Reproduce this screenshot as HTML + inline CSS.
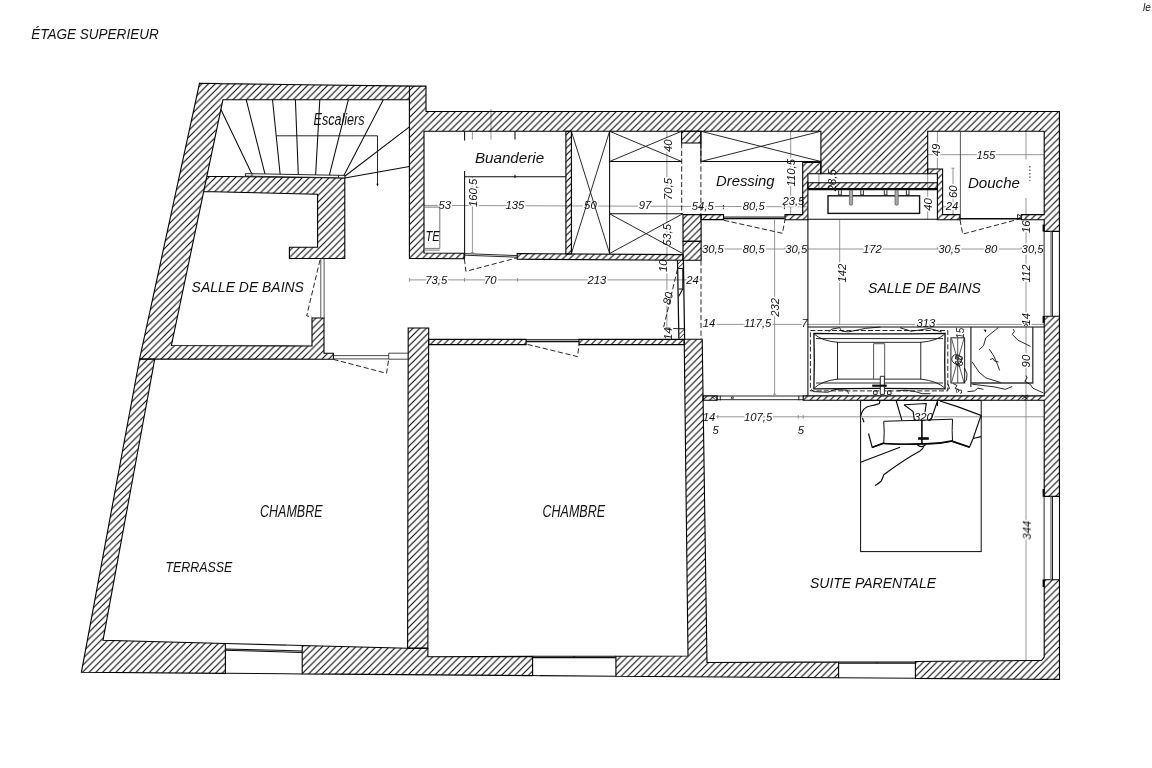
<!DOCTYPE html>
<html lang="fr"><head><meta charset="utf-8"><title>Étage supérieur</title>
<style>html,body{margin:0;padding:0;background:#fff}svg{display:block}text{font-family:"Liberation Sans",sans-serif;font-style:italic;fill:#111}#labels,#dims,#dims2{opacity:.999}.k{stroke:#0a0a0a;fill:none;stroke-width:1.05}.t{stroke:#111;fill:none;stroke-width:.9}.g{stroke:#8a8a8a;fill:none;stroke-width:.9}.d{stroke:#111;fill:none;stroke-width:.9;stroke-dasharray:5.2 2.6}#dims text{stroke:#fff;stroke-width:3.4px;paint-order:stroke;stroke-linejoin:round}.w{fill:url(#h);stroke:#000;stroke-width:1.1;stroke-linejoin:miter}</style></head><body>
<svg width="1152" height="768" viewBox="0 0 1152 768">
<defs><pattern id="h" width="6.7" height="6.7" patternUnits="userSpaceOnUse" x="4.3" y="0"><path d="M-1 1L1 -1M0 6.7 L6.7 0M5.7 7.7 L7.7 5.7" stroke="#000" stroke-width="1.05" fill="none"/></pattern></defs>
<rect width="1152" height="768" fill="#fff"/>
<g id="dimlines"><path class="g" d="M472.4 131.25V139.6M491 109V139.6M472.4 176.75V252.9M470.8 252.4H474M424.1 205.4L807.9 206.8"/>
<path class="g" d="M666.9 131.25V337.5"/>
<path class="g" d="M409.4 279.9H701M409.4 278V281.8M464.5 278V281.8M517.4 278V281.8"/>
<path class="g" d="M790.7 131.25V214.6M774.6 219.8V394.6M773 394.2H776.2"/>
<path class="g" d="M701 249H1044.2M723.8 247.2V250.8M785 247.2V250.8M807.9 247.2V250.8M937.4 247.2V250.8M960 247.2V250.8M1021.3 247.2V250.8"/>
<path class="g" d="M839.7 219.8V325M927.7 173.7V219.8M818.9 173.7V189"/>
<path class="g" d="M1026 131.25V660.4M927.5 154.7H1044.2M937.4 131.25V169M953 168.2V214.6M951.4 168.2H954.6M951.4 214.4H954.6M942.6 206.8H960"/>
<path class="g" d="M703 324.4H1044.2M712.5 322.6V326.2M803 322.6V326.2"/>
<path class="g" d="M703 416.8H1044.2M712.7 415V418.6M717.8 415V418.6M798.3 415V418.6M803.2 415V418.6"/></g>
<g id="dims" font-size="11.3">
<text x="438.5" y="209.4">53</text>
<text x="505.5" y="209.4">135</text>
<text x="584.1" y="209.4">50</text>
<text x="638.8" y="209.4">97</text>
<text x="691.8" y="209.9">54,5</text>
<text x="742.8" y="209.9">80,5</text>
<text x="782.4" y="204.7">23,5</text>
<text x="425.3" y="283.6">73,5</text>
<text x="483.9" y="283.6">70</text>
<text x="587.5" y="283.6">213</text>
<text x="686.3" y="284">24</text>
<text x="701.9" y="252.7">30,5</text>
<text x="742.8" y="252.9">80,5</text>
<text x="785.3" y="252.9">30,5</text>
<text x="863" y="252.9">172</text>
<text x="938.2" y="252.9">30,5</text>
<text x="984.8" y="252.9">80</text>
<text x="1021.6" y="252.9">30,5</text>
<text x="976.5" y="158.6">155</text>
<text x="945.8" y="209.9">24</text>
<text x="702.8" y="327.3">14</text>
<text x="743.9" y="327.4">117,5</text>
<text x="801.4" y="327">7</text>
<text x="916.5" y="327.4">313</text>
<text x="702.8" y="420.8">14</text>
<text x="743.9" y="420.8">107,5</text>
<text x="712.6" y="434">5</text>
<text x="797.7" y="434">5</text>
<text x="913.9" y="420.6">320</text>
<!-- rotated -->
<text transform="translate(672 152) rotate(-90)">40</text>
<text transform="translate(671.5 200) rotate(-90)">70,5</text>
<text transform="translate(670.5 246) rotate(-90)">53,5</text>
<text transform="translate(666.5 272) rotate(-90)">10</text>
<text transform="translate(670.3 305.3) rotate(-77)">80</text>
<text transform="translate(672 340) rotate(-90)">14</text>
<text transform="translate(476.8 207) rotate(-90)">160,5</text>
<text transform="translate(795.4 186.5) rotate(-90)">110,5</text>
<text transform="translate(846.2 282.5) rotate(-90)">142</text>
<text transform="translate(779.3 316.7) rotate(-90)">232</text>
<text transform="translate(931.8 210.8) rotate(-90)">40</text>
<text transform="translate(940.3 156.2) rotate(-90)">49</text>
<text transform="translate(956.6 198) rotate(-90)">60</text>
<text transform="translate(1030 233) rotate(-90)">16</text>
<text transform="translate(1030 282.5) rotate(-90)">112</text>
<text transform="translate(1030 325.5) rotate(-90)">14</text>
<text transform="translate(1030.3 367.4) rotate(-90)">90</text>
<text transform="translate(1030.8 539.6) rotate(-90)">344</text>
<text transform="translate(963.5 338.8) rotate(-90)" font-size="10">15</text>
<text transform="translate(962.5 366.2) rotate(-90)" font-size="10">60</text>
<text transform="translate(961.5 394) rotate(-90)" font-size="9">3</text>
</g>

<path class="w" fill-rule="evenodd" d="M139.6 359 L333.4 359.2 L333.4 353.2 L324 353.2 L324 318 L312 318 L312 346 L171.4 345.5 L222.9 99.8 L226 99.8 L409.4 99.8 L409.4 111.5 L409.4 131.25 L409.4 252.9 L409.4 258.4 L464 258.8 L464 253.3 L424 253.01 L424 131.25 L426 131.25 L820.9 131.25 L820.9 173.7 L927.7 173.7 L927.7 131.25 L1044.2 131.25 L1044.2 214.6 L1021.3 214.6 L1021.3 219.8 L1044.2 219.8 L1044.2 231.4 L1059.4 231.4 L1059.4 131.25 L1059.4 111.5 L1044.2 111.5 L426 111.5 L426 99.8 L426 86.25 L426 86.1 L414.34 86.1 L220 83.6 L220 83.61 L199.5 83.3Z M289.4 258.5 L344.8 258.5 L344.8 177.9 L206.9 176.25 L203.7 191.5 L317.6 194.2 L317.6 247.3 L289.4 247.3Z M225.4 673.35 L225.4 643.5 L103 640.3 L154.7 359.3 L139.6 359 L81.4 672.3Z M427.9 648.2 L407.6 648.2 L302.2 645.5 L302.2 673.9 L532.6 675.58 L532.6 656.4 L427.9 656.8Z M803.2 400.3 L1044.2 400.3 L1044.2 496.4 L1059.4 496.4 L1059.4 316.25 L1044.2 316.25 L1044.2 395.9 L803.2 395.9Z M688 656 L615.9 656.2 L615.9 676.18 L838.6 677.8 L838.6 662 L707 662.5 L702.2 339.2 L684.2 339.2Z M1044.2 579.8 L1044.2 657 L1041.7 660.4 L1030 660.5 L1030 660.5 L915.4 661.5 L915.4 678.35 L1030 679.19 L1030 679.2 L1059.5 679.4 L1059.45 579.8Z"/>
<path class="w" d="M517.2 253.6 L683 254.6 L683 260.3 L517.2 259.2Z"/>
<path class="w" d="M571.4 131.25 L571.4 254 L565.9 254 L565.9 131.25Z"/>
<path class="w" d="M701.1 214.6 L701.1 241.2 L683 241.2 L683 214.6Z"/>
<path class="w" d="M701.1 241.2 L701.1 260.3 L683 260.3 L683 241.2Z"/>
<path class="w" d="M700.9 131.25 L700.9 143 L681.6 143 L681.6 131.25Z"/>
<path class="w" d="M723.5 214.6 L723.5 219.6 L701 219.6 L701 214.6Z"/>
<path class="w" d="M937.3 182.8 L937.3 188.5 L807.9 188.5 L807.9 182.8Z"/>
<path class="w" d="M408.2 328 L428.7 328 L427.9 648.2 L407.6 648.2Z"/>
<path class="w" d="M526.1 339.4 L526.1 344.6 L428.7 344.6 L428.7 339.4Z"/>
<path class="w" d="M684.2 339.4 L684.2 344.6 L579 344.6 L579 339.4Z"/>
<path class="w" d="M717 395.9 L717 400.3 L703 400.3 L703 395.9Z"/>
<path class="w" d="M802.7 162.5 L820.9 162.5 L820.9 173.7 L807.9 173.7 L807.9 219.8 L785 219.8 L785 214.6 L802.7 214.6Z"/>
<path class="w" d="M927.7 169 L942.6 169 L942.6 214.6 L960 214.6 L960 219.8 L937.4 219.8 L937.4 173.7 L927.7 173.7Z"/>
<!-- junction lines -->
<path class="k" d="M139.6 359H155M407.6 648.2H427.9M409.4 86.1V99.8"/>

<!-- ===== stairs ===== -->
<g id="stairs">
<path class="k" d="M220.8 109.2L252 174.2M246.25 99.8L265 174.2M272.5 99.8L280.2 174.8M295.4 99.8L298.3 174.8M319.8 99.8L315.6 175.4M348.3 99.8L329.2 175.8M383.3 99.8L343.75 175.8M409.4 126.9L344.8 176.25M409.4 166.5L344.8 177.9"/>
<path class="t" d="M245.4 173.6L344.8 175.4V177.9L245.4 176.1Z" style="fill:#fff"/>
<path class="t" d="M252 173.7V176.2M338.5 175.3V177.8"/>
<path class="t" d="M276 135.8H377.5V185.2"/>
<path d="M376.3 183.8h2.4l-1.2 2.6z" fill="#111"/>
</g>

<!-- ===== left bathroom door + hall door ===== -->
<g id="leftdoors">
<path class="t" d="M320.8 258.5V318M324.1 258.5V318" style="stroke:#444"/>
<path class="d" d="M320 260L306.7 315.8L312.2 317.2"/>
<path class="t" d="M333.4 355.6H388.7M333.4 358.9H388.7M388.7 353.2H408.2M388.7 359.2H408.2M388.7 353.2V359.2" style="stroke:#333"/>
<path class="d" d="M333.4 359.4L386.5 373.3L388.7 359.4"/>
</g>

<!-- ===== buanderie ===== -->
<g id="buanderie">
<path class="k" d="M464.6 170.9V258.8M464.6 176.75H566.1M464.6 131.25V140.6M515 131.25V139.6M515 174.8V177.9"/>
<path class="t" d="M424.1 207.1H439.8V248.4H424.1M424.1 250.1H439.8" style="stroke:#666"/>
<path class="t" d="M464.4 253.6L517.3 255.6M464.4 255.2L517.3 257.2"/>
<path class="d" d="M464.4 259L465.9 271.3L517.3 257.8"/>
<!-- closets -->
<path class="t" d="M571.4 131.25L609.6 253.5M609.6 131.25L571.4 253.5"/>
<path class="k" d="M609.6 131.25V253.5M609.6 161.5H681.6M609.6 213.8H682.7"/>
<path class="t" d="M609.6 161.5L681.6 131.25M609.6 131.25L681.6 161.5M609.6 253.5L682.7 213.8M609.6 213.8L682.7 253.5"/>
<path class="d" d="M681.7 143V214.6M700.9 143V214.6M701 260.4V339.2"/>
</g>

<!-- ===== corridor dim line + hall door right ===== -->
<g id="corridor">
<path class="k" d="M677.5 260.3L678.9 338.8M683.4 260.3L684.6 338.8" style="stroke-width:1.25"/>
<path class="k" d="M678.2 268.5H682.8V289H678.5M682.8 289L678.6 296.5M678.9 328.8H684.4"/>
<path class="t" d="M677.8 264l3.6-3.6M678 268.3l5.4-5.4M679 334.5l5.3-5.3M679.2 338.6l5.2-5.2"/>
<path class="d" d="M677.5 269L663.5 327.8L679 328.8"/>
</g>

<!-- ===== chamber 2 door ===== -->
<g id="ch2door">
<path class="k" d="M526.1 341.4H579" style="stroke-width:1.5"/>
<path class="t" d="M526.1 339.6H579"/>
<path class="d" d="M527.5 344.4L577.6 356.6L579 344.6"/>
</g>

<!-- ===== dressing ===== -->
<g id="dressing">
<path class="k" d="M700.9 161.5H820.9M700.9 131.25V161.5"/>
<path class="t" d="M700.9 161.5L820.9 131.25M700.9 131.25L820.9 161.5"/>
<path class="k" d="M723.5 218.4H784.5" style="stroke-width:1.5"/>
<path class="t" d="M723.4 205V209.3M784.4 205V209.3" style="stroke-dasharray:1.6 1"/>
<path class="t" d="M723.5 217H785"/>
<path class="d" d="M724 220.3L782.4 233.3L785 219.8"/>
</g>

<!-- ===== vanity recess ===== -->
<g id="vanity">
<path class="k" d="M807.9 219.3H937.4"/>
<path class="k" d="M807.9 189.5H937.3" style="stroke-width:1.7"/>
<rect x="828" y="195.8" width="91.6" height="17.6" fill="#fff" stroke="#111" stroke-width="1.4"/>
<path stroke="#555" stroke-width=".7" fill="#aaa" d="M849.4 190.3V204.5q1.6 1.6 3.2 0V190.3zM895 190.3V204.5q1.6 1.6 3.2 0V190.3z"/>
<path class="t" d="M838.7 190.3v4.7h2.6v-4.7M860.8 190.3v4.7h2.6v-4.7M884.3 190.3v4.7h2.6v-4.7M906.4 190.3v4.7h2.6v-4.7"/>
<path class="k" d="M807.9 219.8V395.9"/>
</g>

<!-- ===== douche ===== -->
<g id="douche">
<path class="t" d="M960.4 131.25V219.8" style="stroke:#444"/>
<rect x="961.5" y="159.5" width="66.5" height="38.5" fill="#fff"/>
<path class="k" d="M960 218.8H1021.3" style="stroke-width:1.5"/>
<path class="d" d="M960 219.8L962.7 234.1L1021.3 218.5"/>
<path class="t" d="M1017.6 214.3v4.6l4 -2.3z"/>
<path class="t" d="M1029.9 166V181" style="stroke-dasharray:1.5 2"/>
</g>

<!-- ===== bath 2 lower: tub, shelf ===== -->
<g id="bath2">
<path class="k" d="M807.9 327H1044.2"/>
<rect x="810.4" y="330.5" width="137.4" height="60.4" fill="none" stroke="#111" stroke-width=".9" stroke-dasharray="5 2.2"/>
<path class="t" d="M828.5 331.9L831.9 329.1L839.6 327.7L841.7 331.2L848.6 331.9L865.3 328.4L880.6 327M900 327.7L911.1 331.2L920.8 329.8L929.2 328.4L941.7 331.9M811.1 389.5L813.9 391.6L827.8 392.3L834.7 389.5L847.2 390.2L848.6 393.7M897.2 390.9L905.6 390.2L915.3 391.6L922.2 393.7L930.6 393.7"/>
<path class="k" d="M813.9 333.3Q879.5 334.3 945.1 333.3Q944.3 361 945.1 388.8Q879.5 387.8 813.9 388.8Q814.7 361 813.9 333.3Z" style="stroke-width:1.3"/>
<path class="t" d="M816 338.6H943M816 383H943M814.4 334.2Q822 341 837.5 342.3M944.6 334.2Q937 341 920.8 342.3M814.4 387.9Q822 381 837.5 379.1M944.6 387.9Q937 381 920.8 379.1"/>
<rect class="t" x="837.5" y="342.3" width="83.3" height="36.8"/>
<path class="t" d="M873.6 343.7H884.7M873.6 343.7V379.1M884.7 343.7V379.1" style="stroke:#444"/>
<path class="t" d="M880.3 376.3H884.4V394.4H880.3Z" style="fill:#fff"/>
<path stroke="#111" stroke-width="2.2" d="M872.2 385.7H886.8" fill="none"/>
<path class="t" d="M873.6 390.9h3.5v3.5h-3.5zM887.5 390.9h3.5v3.5h-3.5z"/>
<!-- shelf -->
<path stroke="#333" stroke-width="1.3" fill="none" d="M970.9 327V387M970.9 383H1032.8V327"/>
<rect x="950.9" y="337.8" width="13.7" height="45.2" fill="none" stroke="#333" stroke-width="1.1"/>
<path class="t" d="M951.5 338.5L964 382.5M964 338.5L951.5 382.5M957.7 337.8V383" style="stroke:#444"/>
<path class="t" d="M953 356q-3 4 1 7q4 3 7 -1q2 -5 -3 -7q-4 -1 -5 1zM955 359q3 -3 6 1M956 364l4 3M964.5 368q4 6 2 12l-3 3"/>
<!-- marble veins -->
<path class="t" d="M998.4 327.5L985.8 337.8L983.5 345.8L979 349.8M1013.3 329.2L1014.4 331.5L1012.2 334.3L1017.9 340.1L1030.5 346.4M989.3 349.2L993.9 356.1L997.3 364.1L999.6 370.4M990 359.5L993 358.5L994.5 361L998.5 362M972.1 361.8L979 372.1L985.8 377.9L1000.7 382.5M1025.9 375.6L1027.1 377.9L1024.8 381.3L1030.5 384.7L1032.8 388.2L1043.1 392.8M972.1 384.2L995 387L1005.3 389.3L1012.2 386.5M967.5 391.6L974.4 391L977.8 388.2L983.5 389.3M953 383.5l4 2l-2 3l4 1M948 384l1.5 4.5l-2.5 1"/>
<path d="M983.5 329.5l3 .3l-.8 2.6z" fill="#111"/>
<path class="t" d="M1021.8 394.8l6 4.5M1027.8 394.8l-6 4.5M1024 326l2 -2.5l2 2.5"/>
</g>

<!-- ===== sliding door & suite dims ===== -->
<g id="suite">
<path class="t" d="M717 396H803.2M717 399.7H803.2M717 395.9V400.3M720.3 395.9V400.3M798.8 395.9V400.3"/>
<circle cx="732.4" cy="397.8" r="1" class="t"/>
<path class="t" d="M712 396.5l3 3M714 396l1.5 1.5"/>
</g>

<!-- ===== bed ===== -->
<g id="bed">
<rect class="k" x="860.6" y="400.4" width="120.6" height="151.2" style="stroke-width:1"/>
<path class="k" d="M883.75 421.3Q918 420.3 952.5 419.2Q951.8 431 952.5 441Q936 444.5 921.9 443.8Q900 444.8 883.75 443.5Q884.6 432 883.75 421.3Z" style="stroke-width:1"/>
<path class="k" d="M883.75 443.5Q900 444.8 921.9 443.9Q938 444.3 952.5 440.9" style="stroke-width:1.7"/>
<path class="k" d="M921.9 420.4V444.1" style="stroke-width:1.6"/>
<path class="k" d="M872.25 447.2L883.75 443.2M952.5 441.3L969.4 447" style="stroke-width:1.6"/>
<path class="k" d="M918.1 438.5H928.8" style="stroke-width:2.6"/>
<path class="k" d="M860.6 416Q863 407 870 406Q876 405 879.4 403.5L880 400.4M862.5 417.9L864 422.3M868.5 433.5L872.25 447.5L883.75 442.9M896.25 401L901.9 420.4M904 404.75L926.25 403.5L925 412.25M904 404.75L913.1 411.6L914.4 420.4M937.5 401L931.9 417.25L928.75 421M937.5 401V406M940 401L957.5 406.6L981 415.4L973.1 438.5L969.4 447.25L952.5 441.6M973.1 438.5L981 436.6M860.6 462.25L900 447.25M925 444.1Q923 449 920 451Q905 459 883.75 474.75Q882 480 881.25 481Q879 483.5 875 485.4M917.5 444.75Q921 448.5 925.6 444.75" style="stroke-width:1.15"/>
</g>

<!-- ===== right windows ===== -->
<g id="rwin">
<path class="k" d="M1044.1 231.4V316.25M1044.1 496.4V579.8" style="stroke:#333"/>
<path class="k" d="M1059.4 231.4V316.25M1059.5 496.4V579.8M1052.3 231.4V316.25M1052.4 496.4V579.8"/>
<path stroke="#808080" stroke-width="1.3" fill="none" d="M1050.9 231.4V316.25M1050.9 496.4V579.8"/>
<path stroke="#000" stroke-width="2" fill="none" d="M1043.6 224.5V231.6M1043.6 316.1V323M1043.6 489.1V496.7M1043.6 579.5V587"/>
</g>

<!-- ===== bottom windows ===== -->
<g id="bwin">
<path class="k" d="M225.4 643.5L302.2 645.5M225.4 673.35L302.2 673.9M225.4 648.9L302.2 651M225.4 650.3L302.2 652.4"/>
<path class="k" d="M532.6 656.2H615.9M532.6 657.6H615.9M532.6 675.6L615.9 676.2M574.2 656.2V657.6"/>
<path class="k" d="M838.6 662H915.4M838.6 663.3H915.4M838.6 677.8L915.4 678.35M877 662V663.3"/>
</g>

<!-- ===== room labels ===== -->
<g id="labels" font-size="14.4">
<text x="31.2" y="39" textLength="127.5" lengthAdjust="spacingAndGlyphs">ÉTAGE SUPERIEUR</text>
<text x="191.6" y="292.4" textLength="112.3" lengthAdjust="spacingAndGlyphs">SALLE DE BAINS</text>
<text x="313.5" y="124.8" font-size="16" textLength="51" lengthAdjust="spacingAndGlyphs">Escaliers</text>
<text x="474.9" y="163.1" font-size="14" textLength="69.2" lengthAdjust="spacingAndGlyphs">Buanderie</text>
<text x="716" y="185.9" font-size="14" textLength="58.6" lengthAdjust="spacingAndGlyphs">Dressing</text>
<text x="967.9" y="188" font-size="14" textLength="52.1" lengthAdjust="spacingAndGlyphs">Douche</text>
<text x="868.1" y="292.5" textLength="112.8" lengthAdjust="spacingAndGlyphs">SALLE DE BAINS</text>
<text x="260" y="516.8" font-size="16.7" textLength="62.5" lengthAdjust="spacingAndGlyphs">CHAMBRE</text>
<text x="542.5" y="516.8" font-size="16.7" textLength="62.5" lengthAdjust="spacingAndGlyphs">CHAMBRE</text>
<text x="165.5" y="571.6" textLength="66.9" lengthAdjust="spacingAndGlyphs">TERRASSE</text>
<text x="810" y="588" textLength="126" lengthAdjust="spacingAndGlyphs">SUITE PARENTALE</text>
<text x="425.5" y="241.2" font-size="14.2" textLength="14.3" lengthAdjust="spacingAndGlyphs">TE</text>
<text x="1143.1" y="10.6" font-size="10">le</text>
</g>

<g id="dims2" font-size="11.3"><text transform="translate(836.4 191.2) rotate(-90)">28,5</text></g>
<!-- ===== dimension numbers ===== -->

</svg></body></html>
